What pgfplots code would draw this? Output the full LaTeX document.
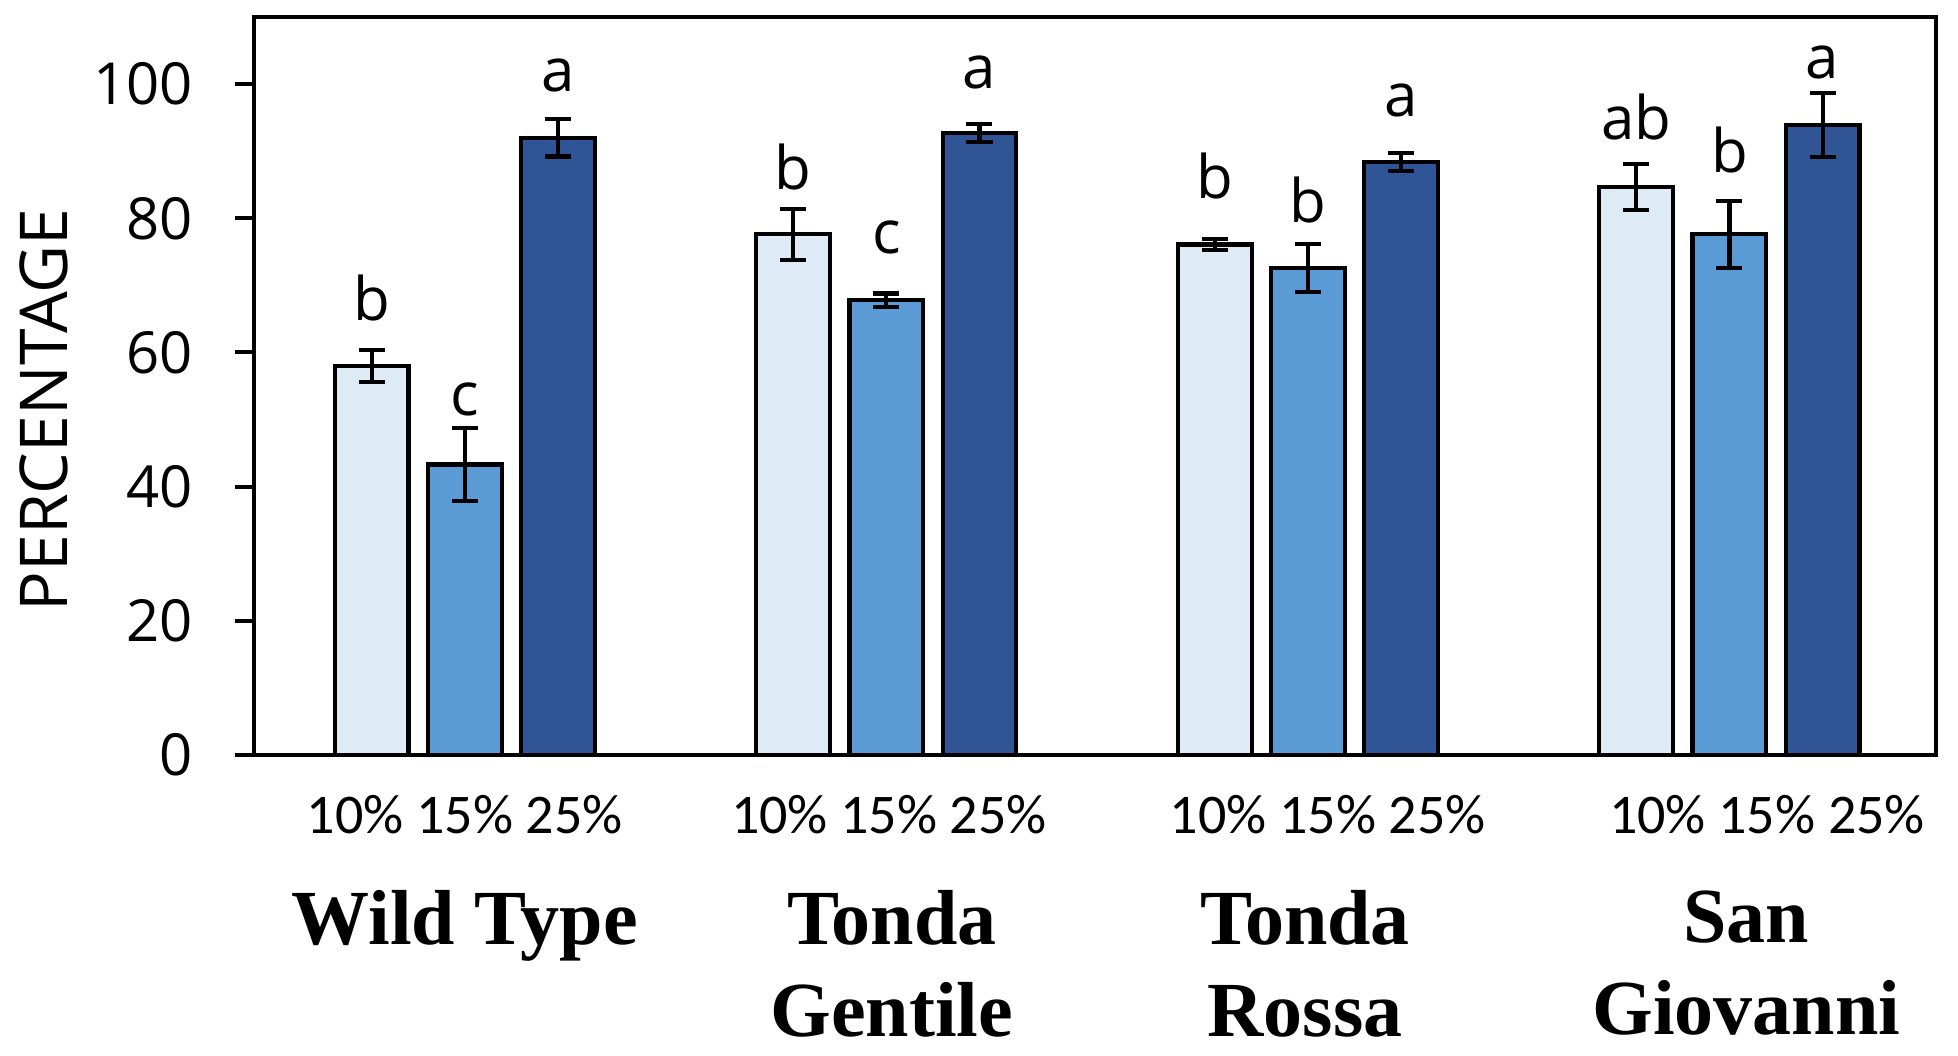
\documentclass[border=0pt]{standalone}
\usepackage{fontspec}
\setmainfont{Open Sans}
\newfontfamily\carl{Carlito}
\newfontfamily\nameserif{Liberation Serif}
\usepackage{pgfplots}
\pgfplotsset{compat=1.18}
\definecolor{lightb}{HTML}{DEEBF7}
\definecolor{midb}{HTML}{5B9BD5}
\definecolor{darkb}{HTML}{2F5597}
\pgfplotsset{
  mybar/.style={ybar, bar width=0.175, bar shift=0pt, draw=black, line width=1.05bp, fill=#1,
    error bars/.cd, y dir=both, y explicit,
    error bar style={line width=1.05bp, black},
    error mark options={rotate=90, mark size=3.25bp, line width=1.05bp, black}},
}
\begin{document}
\begin{tikzpicture}
\begin{axis}[
  name=ax,
  scale only axis,
  width=420.5bp, height=184.5bp,
  xmin=-0.5, xmax=3.49,
  ymin=0, ymax=110,
  axis line style={line width=1bp},
  ytick={0,20,...,100},
  ytick pos=left,
  tick align=outside,
  major tick length=4.75bp,
  tick style={line width=1bp, black},
  xtick style={draw=none},
  /pgf/number format/assume math mode=true,
  yticklabel style={font=\fontsize{14.5bp}{17bp}\selectfont, xshift=-7bp},
  xtick={0,1.006,2.047,3.089},
  xticklabels={10\% 15\% 25\%,10\% 15\% 25\%,10\% 15\% 25\%,10\% 15\% 25\%},
  xticklabel style={font=\carl\fontsize{14bp}{17bp}\selectfont, inner sep=0pt, anchor=north, yshift=-5bp},
  extra x ticks={0,1.013,1.993,3.04},
  extra x tick labels={Wild Type,Tonda\\Gentile,Tonda\\Rossa,San\\Giovanni},
  extra x tick style={xticklabel style={font=\nameserif\bfseries\fontsize{19.5bp}{23bp}\selectfont, align=center, yshift=-24bp}},
  ylabel={PERCENTAGE},
  ylabel style={font=\fontsize{16.5bp}{20bp}\selectfont, anchor=center, at={(rel axis cs:-0.1246,0.4675)}},
]
\addplot[mybar=lightb] coordinates {
  (-0.221,58.0) +- (0,2.4)
  (0.779,77.6) +- (0,3.8)
  (1.779,76.1) +- (0,0.8)
  (2.779,84.7) +- (0,3.45)
};
\addplot[mybar=midb] coordinates {
  (0,43.3) +- (0,5.4)
  (1,67.8) +- (0,1.0)
  (2,72.6) +- (0,3.55)
  (3,77.6) +- (0,5.0)
};
\addplot[mybar=darkb] coordinates {
  (0.221,92.0) +- (0,2.8)
  (1.221,92.7) +- (0,1.3)
  (2.221,88.4) +- (0,1.3)
  (3.221,93.9) +- (0,4.8)
};
% significance letters
\addplot[draw=none, mark=none, nodes near coords, point meta=explicit symbolic,
  nodes near coords align={anchor=base},
  every node near coord/.append style={inner sep=0pt, font=\fontsize{15bp}{18bp}\selectfont}]
  coordinates {
  (-0.221,64.8)[b] (0,50.6)[c] (0.221,98.9)[a]
  (0.779,84.3)[b] (1,74.7)[c] (1.221,99.4)[a]
  (1.779,82.9)[b] (2,79.3)[b] (2.221,95.2)[a]
  (2.779,91.7)[ab] (3,86.8)[b] (3.221,100.8)[a]
};
\end{axis}
\pgfresetboundingbox
\path[use as bounding box] ([xshift=-63.5bp,yshift=-75.25bp]ax.south west) rectangle ([xshift=5.5bp,yshift=4.25bp]ax.north east);
\end{tikzpicture}
\end{document}
